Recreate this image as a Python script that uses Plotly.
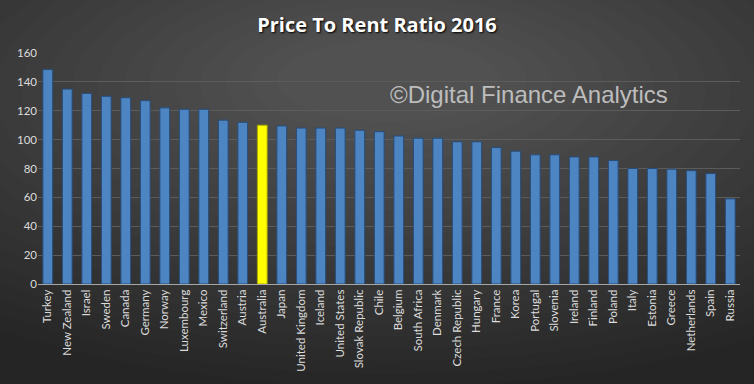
import plotly.graph_objects as go

countries = ["Turkey", "New Zealand", "Israel", "Sweden", "Canada", "Germany", "Norway",
             "Luxembourg", "Mexico", "Switzerland", "Austria", "Australia", "Japan",
             "United Kingdom", "Iceland", "United States", "Slovak Republic", "Chile",
             "Belgium", "South Africa", "Denmark", "Czech Republic", "Hungary", "France",
             "Korea", "Portugal", "Slovenia", "Ireland", "Finland", "Poland", "Italy",
             "Estonia", "Greece", "Netherlands", "Spain", "Russia"]
ratio = [148.5, 135, 132, 130, 129, 127, 122, 121, 121, 113.5, 112, 110, 109.5,
         108, 108, 108, 106.5, 105.5, 102.5, 101, 101, 98.5, 98.5, 94.5,
         92, 89.5, 89.5, 88, 88, 85.5, 80, 80, 79.5, 78.5, 76.5, 59]
highlight = "Australia"

colors = ["#ffff00" if c == highlight else "#4d84c2" for c in countries]
lines = ["#a8a800" if c == highlight else "#274d7a" for c in countries]

fig = go.Figure()
fig.add_trace(go.Bar(
    x=countries, y=ratio,
    marker=dict(color=colors, line=dict(color=lines, width=1)),
    hoverinfo="x+y",
))

shapes = []
# radial-ish gradient background
n = 22
for i in range(n):
    f = (i + 1) / n
    shapes.append(dict(
        type="circle", xref="paper", yref="paper", layer="below",
        x0=0.42 - 0.8 * (1 - f) - 0.08, x1=0.58 + 0.8 * (1 - f) + 0.08,
        y0=0.78 - 1.2 * (1 - f) - 0.08, y1=0.98 + 1.0 * (1 - f) + 0.08,
        fillcolor="rgba(255,255,255,0.0125)", line=dict(width=0),
    ))

fig.update_layout(
    width=754, height=384,
    margin=dict(l=38, r=14, t=53, b=96),
    paper_bgcolor="#252525",
    plot_bgcolor="rgba(0,0,0,0)",
    shapes=shapes,
    bargap=0.5,
    showlegend=False,
    font=dict(family="Lato, Open Sans, sans-serif", color="#d9d9d9", size=11),
    title=dict(text="<b>Price To Rent Ratio 2016</b>", x=0.5, xanchor="center",
               y=0.936, yanchor="middle",
               font=dict(family="Open Sans, Lato, sans-serif", size=20, color="#ffffff",
                         shadow="1px 1px 2px #000000")),
    xaxis=dict(tickangle=-90, showgrid=False, showline=True, linecolor="#a6a6a6",
               linewidth=1, ticks="", tickfont=dict(size=11.5, color="#dcdcdc"),
               fixedrange=True),
    yaxis=dict(range=[0, 160], dtick=20, showgrid=True, gridcolor="#5c5c5c",
               gridwidth=1, zeroline=False, ticks="", tickfont=dict(size=11.5, color="#dcdcdc"),
               fixedrange=True),
    annotations=[dict(
        text="©Digital Finance Analytics", xref="paper", yref="paper",
        x=0.4986, y=0.821, xanchor="left", yanchor="middle", showarrow=False,
        font=dict(family="Liberation Sans, Arial, sans-serif", size=24, color="#bdbdbd"),
    )],
)

fig.write_html("out.html", config={"displayModeBar": False},
               post_script="document.body.style.margin='0';document.body.style.overflow='hidden';")
